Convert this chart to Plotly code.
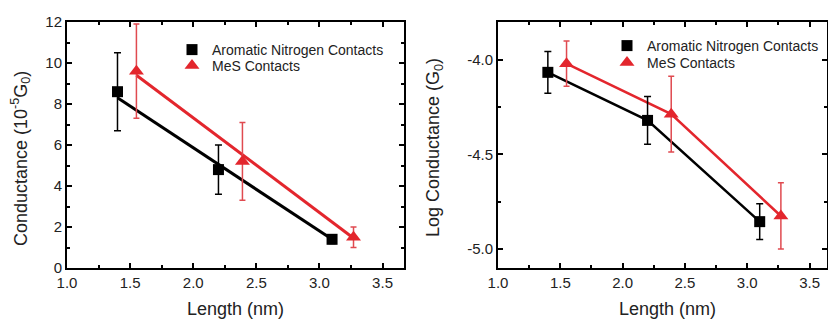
import plotly.graph_objects as go

# ---------------- data ----------------
series_names = ["Aromatic Nitrogen Contacts", "MeS Contacts"]
lengths_an = [1.40, 2.20, 3.10]
lengths_mes = [1.55, 2.39, 3.27]

cond_an = [8.6, 4.8, 1.4]
cond_an_err = [1.9, 1.2, 0.2]
cond_mes = [9.6, 5.2, 1.5]
cond_mes_err = [2.3, 1.9, 0.5]

fit_an_x = [1.40, 3.10]
fit_an_y = [8.3, 1.4]
fit_mes_x = [1.55, 3.25]
fit_mes_y = [9.4, 1.55]

log_an = [-4.066, -4.32, -4.855]
log_an_err = [0.11, 0.126, 0.094]
log_mes = [-4.02, -4.287, -4.825]
log_mes_err = [0.12, 0.20, 0.175]

x_ticks = [1.0, 1.5, 2.0, 2.5, 3.0, 3.5]
x_ticklabels = ["1.0", "1.5", "2.0", "2.5", "3.0", "3.5"]
log_ticks = [-4.0, -4.5, -5.0]
log_ticklabels = ["-4.0", "-4.5", "-5.0"]
log_minor = [-4.25, -4.75]

# ---------------- style ----------------
W, H = 828, 320
BLACK = "#000000"
RED = "#e3262d"
RED_ERR = "#e04a50"
TXT = "#222222"
FONT = "Liberation Sans, Arial, sans-serif"


def px_x(p):
    return p / W


def px_y(p):
    return 1 - p / H


fig = go.Figure()

# ---- left panel ----
fig.add_trace(go.Scatter(x=fit_an_x, y=fit_an_y, mode="lines", line=dict(color=BLACK, width=3),
                         showlegend=False, xaxis="x", yaxis="y", hoverinfo="skip"))
fig.add_trace(go.Scatter(x=fit_mes_x, y=fit_mes_y, mode="lines", line=dict(color=RED, width=3),
                         showlegend=False, xaxis="x", yaxis="y", hoverinfo="skip"))
fig.add_trace(go.Scatter(x=lengths_an, y=cond_an, mode="markers", name=series_names[0],
                         marker=dict(symbol="square", size=11, color=BLACK),
                         error_y=dict(type="data", array=cond_an_err, color=BLACK, thickness=1.5, width=3.5),
                         xaxis="x", yaxis="y", legend="legend"))
fig.add_trace(go.Scatter(x=lengths_mes, y=cond_mes, mode="markers", name=series_names[1],
                         marker=dict(symbol="triangle-up", size=13, color=RED),
                         error_y=dict(type="data", array=cond_mes_err, color=RED_ERR, thickness=1.5, width=3),
                         xaxis="x", yaxis="y", legend="legend2"))

# ---- right panel ----
fig.add_trace(go.Scatter(x=lengths_an, y=log_an, mode="lines", line=dict(color=BLACK, width=2.5),
                         showlegend=False, xaxis="x2", yaxis="y2", hoverinfo="skip"))
fig.add_trace(go.Scatter(x=lengths_mes, y=log_mes, mode="lines", line=dict(color=RED, width=2.5),
                         showlegend=False, xaxis="x2", yaxis="y2", hoverinfo="skip"))
fig.add_trace(go.Scatter(x=lengths_an, y=log_an, mode="markers", name=series_names[0],
                         marker=dict(symbol="square", size=11, color=BLACK),
                         error_y=dict(type="data", array=log_an_err, color=BLACK, thickness=1.5, width=3.5),
                         xaxis="x2", yaxis="y2", legend="legend3"))
fig.add_trace(go.Scatter(x=lengths_mes, y=log_mes, mode="markers", name=series_names[1],
                         marker=dict(symbol="triangle-up", size=13, color=RED),
                         error_y=dict(type="data", array=log_mes_err, color=RED_ERR, thickness=1.5, width=3),
                         xaxis="x2", yaxis="y2", legend="legend4"))

common_axis = dict(
    showline=True, linecolor=BLACK, linewidth=2, mirror="allticks",
    ticks="inside", ticklen=5, tickwidth=1.5, tickcolor=BLACK,
    showgrid=False, zeroline=False, automargin=False,
    tickfont=dict(family=FONT, size=15, color=TXT),
)
minor_style = dict(ticks="inside", ticklen=3, tickwidth=1.5, tickcolor=BLACK, showgrid=False)

ydom = [px_y(268), px_y(22)]


def legend_at(sym_x, row_y):
    # symbol centre sits 20 px right of the legend's left edge
    return dict(x=px_x(sym_x - 20), y=px_y(row_y), xanchor="left", yanchor="middle",
                bgcolor="rgba(0,0,0,0)", borderwidth=0,
                font=dict(family=FONT, size=14, color=TXT))


fig.update_layout(
    template="none",
    width=W, height=H,
    margin=dict(l=0, r=0, t=0, b=0, pad=0, autoexpand=False),
    paper_bgcolor="white", plot_bgcolor="white",
    font=dict(family=FONT, size=14, color=TXT),
    showlegend=True,
    xaxis=dict(domain=[px_x(67), px_x(404)], range=[1.0, 3.67], anchor="y",
               tickmode="array", tickvals=x_ticks, ticktext=x_ticklabels,
               minor=dict(dtick=0.25, tick0=1.0, **minor_style),
               **common_axis),
    yaxis=dict(domain=ydom, range=[0, 12], anchor="x",
               tickmode="linear", tick0=0, dtick=2,
               minor=dict(dtick=1, tick0=0, **minor_style),
               **common_axis),
    xaxis2=dict(domain=[px_x(498), px_x(827)], range=[1.0, 3.64], anchor="y2",
                tickmode="array", tickvals=x_ticks, ticktext=x_ticklabels,
                minor=dict(dtick=0.25, tick0=1.0, **minor_style),
                **common_axis),
    yaxis2=dict(domain=ydom, range=[-5.1, -3.8], anchor="x2",
                tickmode="array", tickvals=log_ticks, ticktext=log_ticklabels,
                minor=dict(tickvals=log_minor, **minor_style),
                **common_axis),
    legend=legend_at(192, 50),
    legend2=legend_at(192, 66),
    legend3=legend_at(627, 46),
    legend4=legend_at(627, 63),
    annotations=[
        dict(text="Conductance (10<sup>-5</sup>G<sub>0</sub>)", xref="paper", yref="paper",
             x=px_x(20), y=px_y(159), textangle=-90, showarrow=False,
             xanchor="center", yanchor="middle", font=dict(family=FONT, size=18, color=TXT)),
        dict(text="Length (nm)", xref="paper", yref="paper",
             x=px_x(235), y=px_y(309), showarrow=False,
             xanchor="center", yanchor="middle", font=dict(family=FONT, size=18, color=TXT)),
        dict(text="Log Conductance (G<sub>0</sub>)", xref="paper", yref="paper",
             x=px_x(434), y=px_y(148), textangle=-90, showarrow=False,
             xanchor="center", yanchor="middle", font=dict(family=FONT, size=18, color=TXT)),
        dict(text="Length (nm)", xref="paper", yref="paper",
             x=px_x(667), y=px_y(309), showarrow=False,
             xanchor="center", yanchor="middle", font=dict(family=FONT, size=18, color=TXT)),
    ],
)

fig.write_html("out.html")
